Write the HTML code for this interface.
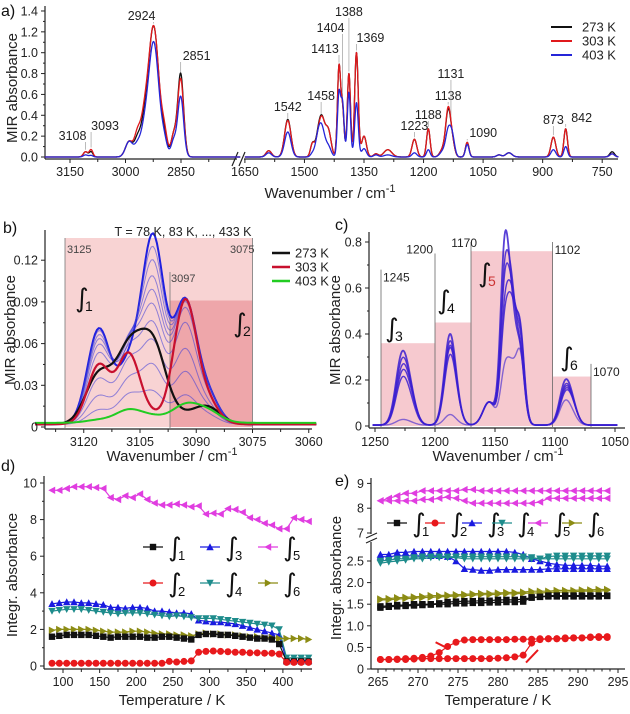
<!DOCTYPE html>
<html><head><meta charset="utf-8"><style>
html,body{margin:0;padding:0;background:#fff}
svg{display:block;font-family:"Liberation Sans",Arial,sans-serif}
.tk{font-size:12.5px;fill:#222}
.tt{font-size:15px;fill:#222}
.pl{font-size:16px;fill:#111}
</style></head><body>
<svg id="fig" width="630" height="714" viewBox="0 0 630 714" xmlns="http://www.w3.org/2000/svg">
<text class="pl" x="1" y="16">a)</text>
<text class="pl" x="3" y="233">b)</text>
<text class="pl" x="335" y="230">c)</text>
<text class="pl" x="1" y="471">d)</text>
<text class="pl" x="335" y="486">e)</text>
<text class="tt" transform="translate(17,88) rotate(-90)" text-anchor="middle">MIR absorbance</text>
<text class="tt" x="330" y="198" text-anchor="middle">Wavenumber / cm<tspan dy="-6" font-size="11">-1</tspan></text>
<text class="tt" transform="translate(15,330) rotate(-90)" text-anchor="middle">MIR absorbance</text>
<text class="tt" x="172" y="461" text-anchor="middle">Wavenumber / cm<tspan dy="-6" font-size="11">-1</tspan></text>
<text class="tt" transform="translate(340,330) rotate(-90)" text-anchor="middle">MIR absorbance</text>
<text class="tt" x="498" y="461" text-anchor="middle">Wavenumber / cm<tspan dy="-6" font-size="11">-1</tspan></text>
<text class="tt" transform="translate(17,575) rotate(-90)" text-anchor="middle">Integr. absorbance</text>
<text class="tt" x="172" y="705" text-anchor="middle">Temperature / K</text>
<text class="tt" transform="translate(341,578) rotate(-90)" text-anchor="middle">Integr. absorbance</text>
<text class="tt" x="498" y="705" text-anchor="middle">Temperature / K</text>
<g id="ga"></g>
<g id="gb"></g>
<g id="gc"></g>
<g id="gd"></g>
<g id="ge"></g>
</svg>
<script>
// ---------- DATA ----------
const aPos   = [3108,3093,2990,2968,2950,2924,2895,2870,2851,1590,1542,1480,1465,1455,1440,1413,1404,1388,1369,1350,1320,1290,1223,1188,1150,1138,1128,1090,1010,985,873,842,725];
const aWid   = [6,5,10,8,10,14,8,7,8,7,8,5,7,7,7,4,4,4,4.5,6,6,10,6,4.5,8,6,6,4.5,6,8,6,4.5,6];
const a273   = [0.05,0.05,0.15,0.15,0.25,1.25,0.15,0.2,0.8,0.06,0.36,0.12,0.2,0.3,0.25,0.85,0.45,0.8,1.0,0.2,0.03,0.07,0.17,0.27,0.08,0.4,0.15,0.14,0.02,0.04,0.19,0.27,0.05];
const a303   = [0.05,0.07,0.15,0.2,0.3,1.25,0.2,0.2,0.75,0.06,0.35,0.12,0.18,0.3,0.25,0.85,0.45,0.8,1.0,0.2,0.03,0.07,0.17,0.27,0.08,0.42,0.15,0.14,0.02,0.04,0.19,0.27,0.03];
const a403   = [0.02,0.015,0.15,0.1,0.2,1.1,0.12,0.15,0.58,0.04,0.24,0.03,0.2,0.22,0.1,0.6,0.5,0.62,0.52,0.08,0.02,0.02,0.04,0.07,0.06,0.22,0.2,0.12,0.02,0.04,0.07,0.1,0.03];
const aLabels = [3108,3093,2924,2851,1542,1458,1413,1404,1388,1369,1223,1188,1138,1131,1090,873,842];
const aYTicks = [0,0.2,0.4,0.6,0.8,1.0,1.2,1.4];
const aXTicksL = [3150,3000,2850];
const aXTicksR = [1650,1500,1350,1200,1050,900,750];
// panel b
const bPos = [3116,3108,3101.5,3093,3087];
const bBlue = [
 [0.068,0.040,0.132,0.086,0.020],
 [0.066,0.046,0.122,0.086,0.020],
 [0.063,0.050,0.112,0.086,0.020],
 [0.060,0.053,0.100,0.085,0.020],
 [0.056,0.055,0.090,0.084,0.020],
 [0.050,0.055,0.080,0.080,0.020],
 [0.042,0.050,0.068,0.070,0.016],
 [0.032,0.042,0.056,0.052,0.012],
 [0.020,0.030,0.040,0.036,0.010],
 [0.010,0.020,0.022,0.020,0.006]];
const b273 = [0.035,0.050,0.055,0.005,0.012];
const b303 = [0.042,0.050,0.005,0.088,0.015];
const b403 = [0.002,0.009,0.004,0.012,0.008];
const bYTicks = [0,0.03,0.06,0.09,0.12];
const bXTicks = [3120,3105,3090,3075,3060];
// panel c
const cPos = [1228,1221,1188,1183,1155,1142,1136,1129,1092,1086];
const cSig = [5,5,4.5,4.5,5,3.5,3.5,3.5,4.5,4.5];
const cCurves = [
 [0.27,0.12,0.35,0.08,0.10,0.73,0.40,0.30,0.16,0.08],
 [0.24,0.12,0.32,0.08,0.10,0.60,0.48,0.30,0.14,0.08],
 [0.21,0.12,0.30,0.08,0.10,0.55,0.45,0.35,0.13,0.08],
 [0.19,0.11,0.29,0.08,0.10,0.45,0.45,0.38,0.12,0.08],
 [0.17,0.09,0.26,0.08,0.10,0.40,0.42,0.40,0.11,0.08],
 [0.02,0.01,0.04,0.01,0.10,0.22,0.20,0.30,0.09,0.04]];
const cYTicks = [0,0.2,0.4,0.6,0.8];
const cXTicks = [1250,1200,1150,1100,1050];
// panel d
const dT = [85,95,105,115,125,135,145,155,165,175,185,195,205,215,225,235,245,255,265,275,285,295,305,315,325,335,345,355,365,375,385,395,405,415,425,435];
const dI1 = [1.6,1.65,1.7,1.7,1.7,1.7,1.65,1.6,1.55,1.6,1.6,1.6,1.6,1.55,1.55,1.6,1.6,1.55,1.5,1.45,1.7,1.75,1.75,1.7,1.7,1.65,1.6,1.55,1.5,1.5,1.45,1.2,0.25,0.25,0.25,0.25];
const dI2 = [0.15,0.15,0.15,0.15,0.15,0.15,0.15,0.15,0.15,0.15,0.15,0.15,0.15,0.15,0.15,0.15,0.25,0.22,0.25,0.28,0.75,0.8,0.82,0.8,0.78,0.75,0.75,0.72,0.72,0.7,0.7,0.65,0.2,0.2,0.2,0.2];
const dI3 = [3.4,3.45,3.5,3.5,3.45,3.45,3.4,3.35,3.2,3.2,3.15,3.2,3.2,3.15,3.0,3.0,2.95,2.9,2.9,2.85,2.5,2.45,2.4,2.4,2.35,2.3,2.2,2.1,2.0,1.9,1.8,1.7,0.3,0.3,0.3,0.3];
const dI4 = [3.0,3.05,3.1,3.1,3.1,3.05,3.0,2.95,2.9,2.85,2.9,2.9,2.9,2.85,2.8,2.75,2.7,2.75,2.7,2.65,2.6,2.6,2.6,2.55,2.5,2.45,2.4,2.35,2.3,2.25,2.2,2.0,0.45,0.45,0.45,0.45];
const dI5 = [9.6,9.6,9.7,9.8,9.8,9.8,9.75,9.7,9.2,9.1,9.3,9.2,9.4,9.1,8.9,8.8,8.8,8.85,8.8,8.7,8.75,8.3,8.35,8.3,8.6,8.55,8.4,8.1,8.0,7.8,7.7,7.5,7.5,8.1,8.0,7.9];
const dI6 = [1.95,2.0,2.0,2.0,2.0,2.0,1.95,1.9,1.85,1.85,1.85,1.9,1.9,1.85,1.8,1.75,1.75,1.7,1.7,1.65,1.75,1.8,1.75,1.75,1.7,1.7,1.65,1.6,1.6,1.55,1.55,1.5,1.5,1.5,1.5,1.45];
const dYTicks = [0,2,4,6,8,10];
const dXTicks = [100,150,200,250,300,350,400];
// panel e
const eT = [265.3,266.35,267.4,268.45,269.5,270.55,271.6,272.65,273.7,274.75,275.8,276.85,277.9,278.95,280.0,281.05,282.1,283.15,284.2,285.25,286.3,287.35,288.4,289.45,290.5,291.55,292.6,293.65];
const e5a = [8.3,8.4,8.5,8.6,8.6,8.7,8.7,8.7,8.7,8.7,8.75,8.75,8.7,8.7,8.7,8.7,8.7,8.7,8.7,8.7,8.7,8.7,8.7,8.7,8.7,8.7,8.7,8.7];
const e5b = [8.3,8.3,8.3,8.3,8.3,8.35,8.35,8.4,8.45,8.4,8.3,8.2,8.2,8.2,8.2,8.2,8.2,8.2,8.2,8.25,8.4,8.4,8.4,8.4,8.4,8.4,8.4,8.4];
const e3a = [2.65,2.65,2.7,2.7,2.72,2.72,2.72,2.72,2.72,2.72,2.72,2.72,2.72,2.72,2.72,2.72,2.7,2.65,2.55,2.5,2.45,2.42,2.4,2.4,2.4,2.4,2.38,2.38];
const e3b = [2.6,2.6,2.62,2.62,2.62,2.62,2.62,2.62,2.6,2.5,2.32,2.3,2.28,2.28,2.3,2.3,2.3,2.3,2.3,2.3,2.32,2.32,2.32,2.32,2.32,2.32,2.32,2.32];
const e4a = [2.45,2.48,2.5,2.52,2.55,2.55,2.58,2.58,2.58,2.58,2.55,2.55,2.55,2.55,2.55,2.55,2.55,2.55,2.55,2.55,2.55,2.55,2.55,2.55,2.55,2.55,2.55,2.55];
const e4b = [2.5,2.52,2.55,2.55,2.58,2.6,2.6,2.6,2.6,2.6,2.6,2.6,2.6,2.6,2.6,2.6,2.6,2.6,2.58,2.55,2.6,2.62,2.62,2.62,2.62,2.62,2.62,2.62];
const e6a = [1.6,1.6,1.62,1.63,1.64,1.65,1.66,1.67,1.68,1.69,1.7,1.71,1.72,1.72,1.73,1.74,1.74,1.75,1.76,1.76,1.77,1.78,1.78,1.79,1.8,1.8,1.8,1.82];
const e6b = [1.62,1.63,1.65,1.66,1.67,1.68,1.7,1.7,1.71,1.72,1.73,1.74,1.75,1.75,1.76,1.77,1.77,1.78,1.8,1.8,1.8,1.82,1.82,1.82,1.83,1.83,1.84,1.84];
const e1a = [1.42,1.44,1.45,1.46,1.47,1.48,1.49,1.5,1.5,1.52,1.52,1.53,1.53,1.54,1.54,1.55,1.55,1.56,1.66,1.67,1.68,1.68,1.68,1.68,1.68,1.68,1.68,1.69];
const e1b = [1.45,1.46,1.48,1.48,1.5,1.5,1.5,1.52,1.55,1.56,1.57,1.57,1.58,1.58,1.6,1.6,1.6,1.62,1.65,1.67,1.7,1.7,1.7,1.7,1.7,1.7,1.7,1.7];
const e2a = [0.22,0.22,0.22,0.22,0.23,0.24,0.24,0.24,0.24,0.24,0.24,0.24,0.24,0.24,0.25,0.26,0.28,0.32,0.6,0.68,0.7,0.7,0.72,0.72,0.72,0.73,0.73,0.73];
const e2b = [0.22,0.22,0.23,0.24,0.25,0.27,0.3,0.38,0.52,0.62,0.67,0.68,0.68,0.68,0.68,0.68,0.69,0.69,0.69,0.7,0.7,0.7,0.7,0.72,0.72,0.74,0.75,0.75];
const eYTicksLow = [0,0.5,1.0,1.5,2.0,2.5];
const eYTicksHigh = [7,8,9];
const eXTicks = [265,270,275,280,285,290,295];

// ---------- HELPERS ----------
const NS = "http://www.w3.org/2000/svg";
function mk(tag, parent){ const e = document.createElementNS(NS, tag); parent.appendChild(e); return e; }
function at(e, o){ for (const k in o) e.setAttribute(k, o[k]); return e; }
function gauss(w, pos, h, sig){ let s=0; for(let i=0;i<pos.length;i++){ const sg = Array.isArray(sig)?sig[i]:sig; const d=(w-pos[i])/sg; s+=h[i]*Math.exp(-0.5*d*d);} return s; }
function tickLine(g,x1,y1,x2,y2){ const l=mk('line',g); at(l,{x1,y1,x2,y2,stroke:'#222','stroke-width':1});
 
  }
function tickText(g,x,y,txt,anchor){ const t=mk('text',g); at(t,{x,y,'class':'tk','text-anchor':anchor}); t.textContent=txt;
 
  return t; }
function axLine(g,x1,y1,x2,y2,name){ const l=mk('line',g); at(l,{x1,y1,x2,y2,stroke:'#222','stroke-width':1.2});
 
  }
function fmt(v,d){ return v===0?'0':v.toFixed(d); }
function specPath(g, fn, w0, w1, xf, yf, color, width, op, name){
 let d=''; const step=(w1>w0?0.5:-0.5);
 for(let w=w0; (step>0? w<=w1 : w>=w1); w+=step){ d+=(d?'L':'M')+xf(w).toFixed(2)+','+yf(fn(w)).toFixed(2); }
 const p=mk('path',g); at(p,{d,fill:'none',stroke:color,'stroke-width':width,'stroke-opacity':op,'stroke-linejoin':'round'});
 
 
 return p; }

// ---------- PANEL A ----------
(function(){
 const g=document.getElementById('ga');
 const xL=w=>70+(3150-w)*0.37, xR=w=>364+(1350-w)*0.397, ya=v=>157-v*104.3;
 const AX=159;
 axLine(g,45,6,45,AX,'a-y-axis');
 axLine(g,45,AX,237,AX,'a-x-axis-left');
 axLine(g,244,AX,618,AX,'a-x-axis-right');
 const br=mk('path',g); at(br,{d:'M232,166 L238,152 M239,166 L245,152',stroke:'#222','stroke-width':1.2,fill:'none'});
 
 
 aYTicks.forEach(v=>{ tickLine(g,41,ya(v),45,ya(v)); tickText(g,38,ya(v)+4.5,v.toFixed(1),'end'); });
 [0.1,0.3,0.5,0.7,0.9,1.1,1.3].forEach(v=>tickLine(g,43,ya(v),45,ya(v)));
 aXTicksL.forEach(w=>{ tickLine(g,xL(w),AX,xL(w),AX+4); tickText(g,xL(w),AX+17,String(w),'middle'); });
 [3075,2925,2775].forEach(w=>tickLine(g,xL(w),AX,xL(w),AX+3));
 aXTicksR.forEach(w=>{ tickLine(g,xR(w),AX,xR(w),AX+4); tickText(g,xR(w),AX+17,String(w),'middle'); });
 [1575,1425,1275,1125,975,825].forEach(w=>tickLine(g,xR(w),AX,xR(w),AX+3));
 const lblY=[140,130,20,60,111,100,53,32,16,42,130,119,100,78,137,124,122];
 const lblDX=[-13,14,-12,16,0,0,-14,-12,0,14,0,0,0,0,16,0,16];
 const all=(w,h)=>gauss(w,aPos,h,aWid);
 aLabels.forEach((w,i)=>{
  const x=(w>2000?xL(w):xR(w));
  const l=mk('line',g); at(l,{x1:x,y1:lblY[i]+2,x2:x,y2:ya(all(w,a303))-2,stroke:'#aaa','stroke-width':0.8});
  
  
  const t=mk('text',g); at(t,{x:x+lblDX[i],y:lblY[i],'font-size':'12.5','text-anchor':'middle',fill:'#222'}); t.textContent=String(w);
  
  
 });
 const ser=[[a273,'#111','spectrum-273k'],[a303,'#e0191c','spectrum-303k'],[a403,'#2525d8','spectrum-403k']];
 ser.forEach(s=>{
  specPath(g,w=>all(w,s[0]),3218,2690,xL,ya,s[1],1.3,1,s[2]+'-high');
  specPath(g,w=>all(w,s[0]),1650,709,xR,ya,s[1],1.3,1,s[2]+'-low');
 });
 const leg=[['273 K','#111'],['303 K','#e0191c'],['403 K','#2525d8']];
 leg.forEach((s,i)=>{ const y=27+i*14;
  const l=mk('line',g); at(l,{x1:551,y1:y,x2:572,y2:y,stroke:s[1],'stroke-width':2});
  
  
  const t=mk('text',g); at(t,{x:582,y:y+4.5,'font-size':'13',fill:'#222'}); t.textContent=s[0];
  
  
 });
})();

// ---------- PANEL B ----------
(function(){
 const g=document.getElementById('gb');
 const xb=w=>140+(3105-w)*3.75, yb=v=>427-v*1390;
 const r1=mk('rect',g); at(r1,{x:xb(3125),y:238,width:xb(3075)-xb(3125),height:427-238,fill:'#f8d3d3'});
 
 
 const r2=mk('rect',g); at(r2,{x:xb(3097),y:yb(0.091),width:xb(3075)-xb(3097),height:427-yb(0.091),fill:'#eea6aa'});
 
 
 [[3125,238],[3097,272],[3075,238]].forEach(a=>{ const l=mk('line',g); at(l,{x1:xb(a[0]),y1:a[1],x2:xb(a[0]),y2:428,stroke:'#777','stroke-width':0.8});
  
   });
 [['3125',xb(3125)+2,253,'start'],['3075',xb(3075)+2,253,'end'],['3097',xb(3097)+1,282,'start']].forEach(a=>{
  const t=mk('text',g); at(t,{x:a[1],y:a[2],'font-size':'11',fill:'#444','text-anchor':a[3]}); t.textContent=a[0];
  
   });
 const fn=h=>(w=>gauss(w,bPos,h,3)+0.002);
 bBlue.forEach((h,i)=>specPath(g,fn(h),3133,3058,xb,yb,i===0?'#2020e0':'#3a3ad8',i===0?2:1,i===0?1:0.55,'spectrum-blue-'+i));
 specPath(g,w=>gauss(w,bPos,b273,3.5)+0.002,3133,3058,xb,yb,'#111',2.2,1,'spectrum-273k');
 specPath(g,fn(b303),3133,3058,xb,yb,'#c8102e',2.2,1,'spectrum-303k');
 specPath(g,w=>gauss(w,bPos,b403,3.5)+0.003,3133,3058,xb,yb,'#22cc22',2,1,'spectrum-403k');
 axLine(g,45,230,45,429,'b-y-axis'); axLine(g,45,429,312,429,'b-x-axis');
 bYTicks.forEach(v=>{ tickLine(g,41,yb(v),45,yb(v)); tickText(g,38,yb(v)+4.5,fmt(v,2),'end'); });
 [0.015,0.045,0.075,0.105].forEach(v=>tickLine(g,43,yb(v),45,yb(v)));
 bXTicks.forEach(w=>{ tickLine(g,xb(w),429,xb(w),433); tickText(g,xb(w),446,String(w),'middle'); });
 [3127.5,3112.5,3097.5,3082.5,3067.5].forEach(w=>tickLine(g,xb(w),429,xb(w),432));
 const tT=mk('text',g); at(tT,{x:183,y:236,'font-size':'12.5','text-anchor':'middle',fill:'#222'}); tT.textContent='T = 78 K, 83 K, ..., 433 K';
 
 
 [['273 K','#111'],['303 K','#c8102e'],['403 K','#22cc22']].forEach((s,i)=>{ const y=253+i*14;
  const l=mk('line',g); at(l,{x1:272,y1:y,x2:290,y2:y,stroke:s[1],'stroke-width':2.5});
  
  
  const t=mk('text',g); at(t,{x:295,y:y+4.5,'font-size':'13',fill:'#222'}); t.textContent=s[0];
  
   });
 [['1',75,307],['2',233,332]].forEach(a=>{ const t=mk('text',g); at(t,{x:a[1],y:a[2],'font-size':'26',fill:'#111','font-family':'DejaVu Sans, sans-serif'}); t.textContent='∫';
  
  
  const s=mk('text',g); at(s,{x:a[1]+10,y:a[2]+4,'font-size':'14',fill:'#111'}); s.textContent=a[0];
  
   });
})();

// ---------- PANEL C ----------
(function(){
 const g=document.getElementById('gc');
 const xc=w=>375+(1250-w)*1.2, yc=v=>426-v*230;
 [[1245,1200,0.36],[1200,1170,0.45],[1170,1102,0.76],[1102,1070,0.215]].forEach(r=>{
  const e=mk('rect',g); at(e,{x:xc(r[0]),y:yc(r[2]),width:xc(r[1])-xc(r[0]),height:426-yc(r[2]),fill:'#f6c9cf'});
  
   });
 [[1245,0.68],[1200,0.75],[1170,0.8],[1102,0.8],[1070,0.27]].forEach(a=>{
  const l=mk('line',g); at(l,{x1:xc(a[0]),y1:yc(a[1]),x2:xc(a[0]),y2:427,stroke:'#666','stroke-width':0.8});
  
  
  const t=mk('text',g); at(t,{x:xc(a[0])+(a[0]===1200||a[0]===1170?-2:2),y:yc(a[1])+(a[0]===1200||a[0]===1170?0:12),'font-size':'12',fill:'#222','text-anchor':(a[0]===1200||a[0]===1170)?'end':'start'}); t.textContent=String(a[0]);
  if(a[0]===1170){ t.setAttribute('text-anchor','end'); t.setAttribute('x',xc(1170)+6); t.setAttribute('y',yc(0.8)+5); }
  
   });
 cCurves.forEach((h,i)=>specPath(g,w=>gauss(w,cPos,h,cSig)+0.004,1252,1048,xc,yc,'#3b1fd0',i===0?1.8:1.4,i<5?0.85:0.6,'spectrum-c-'+i));
 axLine(g,369,232,369,428,'c-y-axis'); axLine(g,369,428,625,428,'c-x-axis');
 cYTicks.forEach(v=>{ tickLine(g,365,yc(v),369,yc(v)); tickText(g,362,yc(v)+4.5,fmt(v,1),'end'); });
 [0.1,0.3,0.5,0.7].forEach(v=>tickLine(g,367,yc(v),369,yc(v)));
 cXTicks.forEach(w=>{ tickLine(g,xc(w),428,xc(w),432); tickText(g,xc(w),446,String(w),'middle'); });
 [1225,1175,1125,1075].forEach(w=>tickLine(g,xc(w),428,xc(w),431));
 [['3',385,337,'#111'],['4',437,309,'#111'],['5',478,282,'#c33'],['6',560,366,'#111']].forEach(a=>{
  const t=mk('text',g); at(t,{x:a[1],y:a[2],'font-size':'26',fill:'#111','font-family':'DejaVu Sans, sans-serif'}); t.textContent='∫';
  
  
  const s=mk('text',g); at(s,{x:a[1]+10,y:a[2]+4,'font-size':'14',fill:a[3]}); s.textContent=a[0];
  
   });
})();

// ---------- MARKERS ----------
function marker(g,type,x,y,c){
 let e; const r=3.2;
 if(type==='sq'){ e=mk('rect',g); at(e,{x:x-r,y:y-r,width:2*r,height:2*r,fill:c}); }
 else if(type==='ci'){ e=mk('circle',g); at(e,{cx:x,cy:y,r:r+0.3,fill:c}); }
 else { let p;
  if(type==='up') p=[[0,-r-0.5],[r+0.5,r],[-r-0.5,r]];
  if(type==='dn') p=[[0,r+0.5],[r+0.5,-r],[-r-0.5,-r]];
  if(type==='lf') p=[[-r-0.5,0],[r,-r-0.5],[r,r+0.5]];
  if(type==='rt') p=[[r+0.5,0],[-r,-r-0.5],[-r,r+0.5]];
  e=mk('polygon',g); at(e,{points:p.map(q=>(x+q[0]).toFixed(1)+','+(y+q[1]).toFixed(1)).join(' '),fill:c}); }
 
 
}
function series(g,T,V,xf,yf,c,type,name){
 const p=mk('polyline',g); at(p,{points:T.map((t,i)=>xf(t).toFixed(1)+','+yf(V[i]).toFixed(1)).join(' '),fill:'none',stroke:c,'stroke-width':1.2});
 
 
 T.forEach((t,i)=>marker(g,type,xf(t),yf(V[i]),c));
}
const COL={1:'#111',2:'#e8191c',3:'#1a1ae0',4:'#1e8c8c',5:'#e03de0',6:'#8c8c14'};
const TYP={1:'sq',2:'ci',3:'up',4:'dn',5:'lf',6:'rt'};
function legendItem(g,x,y,k,len){
 const l=mk('line',g); at(l,{x1:x,y1:y,x2:x+len,y2:y,stroke:COL[k],'stroke-width':1.2});
 
 
 marker(g,TYP[k],x+len/2,y,COL[k]);
 const t=mk('text',g); at(t,{x:x+len+5,y:y+9,'font-size':'26',fill:'#111','font-family':'DejaVu Sans, sans-serif'}); t.textContent='∫';
 
 
 const s=mk('text',g); at(s,{x:x+len+15,y:y+13,'font-size':'13',fill:'#111'}); s.textContent=String(k);
 
 
}

// ---------- PANEL D ----------
(function(){
 const g=document.getElementById('gd');
 const xd=T=>63+(T-100)*0.733, yd=v=>666-v*18.3;
 series(g,dT,dI5,xd,yd,COL[5],'lf','series-int5');
 series(g,dT,dI3,xd,yd,COL[3],'up','series-int3');
 series(g,dT,dI4,xd,yd,COL[4],'dn','series-int4');
 series(g,dT,dI6,xd,yd,COL[6],'rt','series-int6');
 series(g,dT,dI1,xd,yd,COL[1],'sq','series-int1');
 series(g,dT,dI2,xd,yd,COL[2],'ci','series-int2');
 axLine(g,44,476,44,669,'d-y-axis'); axLine(g,44,669,312,669,'d-x-axis');
 dYTicks.forEach(v=>{ tickLine(g,40,yd(v),44,yd(v)); tickText(g,37,yd(v)+4.5,String(v),'end'); });
 [1,3,5,7,9].forEach(v=>tickLine(g,42,yd(v),44,yd(v)));
 dXTicks.forEach(t=>{ tickLine(g,xd(t),669,xd(t),673); tickText(g,xd(t),686,String(t),'middle'); });
 [125,175,225,275,325,375,425].forEach(t=>tickLine(g,xd(t),669,xd(t),672));
 legendItem(g,143,547,1,20); legendItem(g,200,547,3,20); legendItem(g,258,547,5,20);
 legendItem(g,143,583,2,20); legendItem(g,200,583,4,20); legendItem(g,258,583,6,20);
})();

// ---------- PANEL E ----------
(function(){
 const g=document.getElementById('ge');
 const xe=T=>378+(T-265)*8.0;
 const ye=v=> v>=6 ? 533-(v-7)*24.8 : 669-v*43.2;
 [[e5a,5],[e5b,5],[e3a,3],[e3b,3],[e4a,4],[e4b,4],[e6a,6],[e6b,6],[e1a,1],[e1b,1],[e2a,2],[e2b,2]].forEach(s=>series(g,eT,s[0],xe,ye,COL[s[1]],TYP[s[1]],'series-int'+s[1]));
 axLine(g,371,478,371,534,'e-y-axis-upper'); axLine(g,371,542,371,669,'e-y-axis-lower'); axLine(g,371,669,625,669,'e-x-axis');
 const br=mk('path',g); at(br,{d:'M366,538 L377,533 M366,543 L377,538',stroke:'#222','stroke-width':1.2,fill:'none'});
 
 
 eYTicksLow.forEach(v=>{ tickLine(g,367,ye(v),371,ye(v)); tickText(g,364,ye(v)+4.5,fmt(v,1),'end'); });
 eYTicksHigh.forEach(v=>{ tickLine(g,367,ye(v),371,ye(v)); tickText(g,364,ye(v)+4.5,String(v),'end'); });
 eXTicks.forEach(t=>{ tickLine(g,xe(t),669,xe(t),673); tickText(g,xe(t),686,String(t),'middle'); });
 [266,267,268,269,271,272,273,274,276,277,278,279,281,282,283,284,286,287,288,289,291,292,293,294].forEach(t=>tickLine(g,xe(t),669,xe(t),671.5));
 [[387,1],[425,2],[462,3],[492,4],[528,5],[562,6]].forEach(a=>legendItem(g,a[0],523,a[1],20));
 [[xe(273.8),ye(0.47),xe(272.2),ye(0.62)],[xe(283.5),ye(0.15),xe(285),ye(0.44)]].forEach(a=>{
  const l=mk('line',g); at(l,{x1:a[0],y1:a[1],x2:a[2],y2:a[3],stroke:'#e8191c','stroke-width':2});
  
   });
})();
</script>
</body></html>
